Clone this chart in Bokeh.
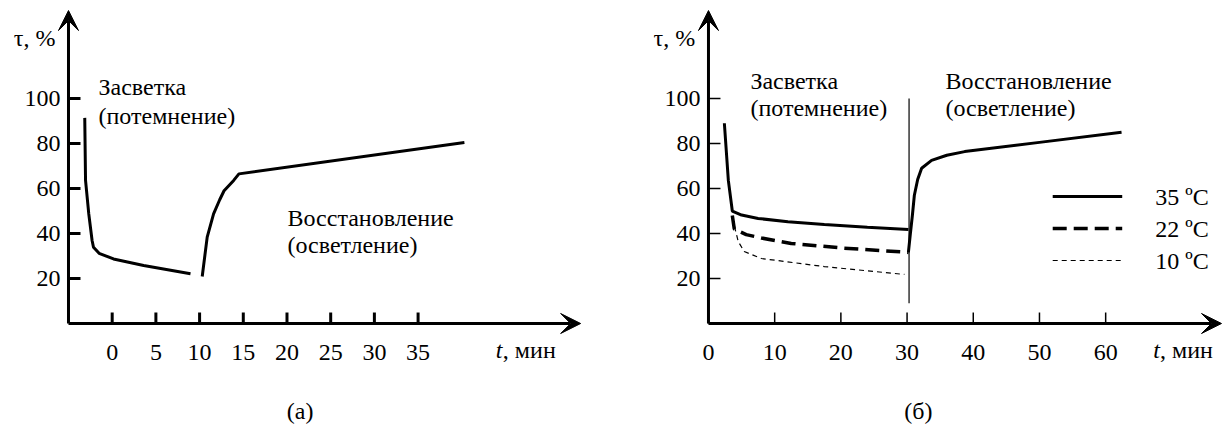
from bokeh.plotting import figure
from bokeh.models import Range1d, FixedTicker, Label, Arrow, VeeHead
from bokeh.layouts import row
from bokeh.embed import file_html
from bokeh.resources import INLINE

FONT = "'Liberation Serif', 'Times New Roman', serif"
FS = "24px"
TICK_COLOR = "black"

# ---------- panel (а) data ----------
a_dark_t = [-3.14, -3.05, -2.68, -2.3, -2.14, -1.5, 0.15, 3.6, 8.96]
a_dark_v = [91.4, 63.6, 48.7, 36.9, 33.9, 31.2, 28.7, 25.8, 22.1]
a_rec_t = [10.3, 10.87, 11.6, 12.3, 12.8, 13.9, 14.5, 40.3]
a_rec_v = [20.9, 38.4, 48.7, 55.0, 59.0, 63.6, 66.5, 80.4]
a_xticks = [0, 5, 10, 15, 20, 25, 30, 35]
a_yticks = [20, 40, 60, 80, 100]

# ---------- panel (б) data ----------
b35_t = [2.4, 3.0, 3.6, 5.0, 7.5, 12.0, 17.5, 24.0, 30.2]
b35_v = [89.0, 63.6, 50.0, 48.2, 46.7, 45.2, 44.0, 42.8, 41.8]
b22_t = [3.6, 3.9, 5.7, 8.0, 12.5, 20.0, 30.2]
b22_v = [48.0, 42.0, 39.5, 38.0, 35.6, 33.6, 31.6]
b10_t = [3.6, 4.5, 5.4, 8.0, 17.5, 29.6]
b10_v = [47.0, 36.4, 32.0, 28.9, 25.3, 21.8]
brec_t = [30.2, 30.5, 30.8, 31.1, 31.6, 32.2, 33.7, 36.0, 38.7, 50.0, 62.4]
brec_v = [31.6, 40.0, 48.0, 57.0, 64.0, 69.0, 72.5, 74.8, 76.4, 80.5, 85.0]
b_switch_t = 30.3
b_switch_v = [9, 100]
b_xticks = [0, 10, 20, 30, 40, 50, 60]
b_yticks = [20, 40, 60, 80, 100]
legend_labels = ["35 ºC", "22 ºC", "10 ºC"]
legend_v = [56.4, 42.2, 28.0]

H = 432
Y_RANGE = (-48.44, 143.56)   # 2.25 px per unit


def make_fig(width, xr, y_axis_at, xticks, yticks, tick_w, px_per_x):
    p = figure(width=width, height=H, x_range=Range1d(*xr), y_range=Range1d(*Y_RANGE),
               output_backend="svg", toolbar_location=None,
               min_border_left=0, min_border_right=0,
               min_border_top=0, min_border_bottom=0)
    p.grid.visible = False
    p.outline_line_color = None
    p.xaxis.fixed_location = 0
    p.yaxis.fixed_location = y_axis_at
    p.xaxis.ticker = FixedTicker(ticks=xticks)
    p.yaxis.ticker = FixedTicker(ticks=yticks)
    for ax in (p.xaxis, p.yaxis):
        ax.axis_line_color = None
        ax.major_tick_in = 0
        ax.major_tick_out = 0
        ax.major_tick_line_color = None
        ax.minor_tick_line_color = None
        ax.major_label_text_font = FONT
        ax.major_label_text_font_size = FS
        ax.major_label_text_color = "black"
    p.xaxis.major_label_standoff = 21
    p.yaxis.major_label_standoff = 8
    # tick marks pointing into the plot
    xlen = 11 / 2.25
    ylen = 12 / px_per_x
    xs = [[t, t] for t in xticks] + [[y_axis_at, y_axis_at + ylen] for _ in yticks]
    ys = [[0, xlen] for _ in xticks] + [[v, v] for v in yticks]
    p.multi_line(xs=xs, ys=ys, line_width=tick_w, line_color=TICK_COLOR)
    return p


def txt(p, x, y, s, align="left", style="normal"):
    p.add_layout(Label(x=x, y=y, text=s, text_font=FONT, text_font_size=FS,
                       text_align=align, text_baseline="middle", text_color="black",
                       text_font_style=style))


def axes_arrows(p, x0, x1, y1):
    p.add_layout(Arrow(x_start=x0, y_start=0, x_end=x1, y_end=0, line_width=3,
                       end=VeeHead(size=20, fill_color="black", line_color="black")))
    p.add_layout(Arrow(x_start=x0, y_start=0, x_end=x0, y_end=y1, line_width=3,
                       end=VeeHead(size=20, fill_color="black", line_color="black")))


# ---------- figure (а) ----------
pa = make_fig(620, (-12.78, 58.16), -5, a_xticks, a_yticks, 3, 8.74)
pa.line(a_dark_t, a_dark_v, line_width=3, color="black")
pa.line(a_rec_t, a_rec_v, line_width=3, color="black")
axes_arrows(pa, -5, 53.6, 139.1)
txt(pa, -1.57, 104.9, "Засветка")
txt(pa, -1.57, 92.4, "(потемнение)")
txt(pa, 20.06, 46.7, "Восстановление")
txt(pa, 20.06, 34.7, "(осветление)")
txt(pa, -6.5, 126.7, "τ, %", align="right")
txt(pa, 43.9, -11.6, "t", style="italic")
txt(pa, 44.7, -11.6, ", мин")
txt(pa, 21.5, -39, "(а)", align="center")

# ---------- figure (б) ----------
pb = make_fig(603, (-13.29, 77.80), 0, b_xticks, b_yticks, 1.5, 6.62)
pb.line(b35_t, b35_v, line_width=3, color="black")
pb.line(b22_t, b22_v, line_width=3.5, color="black", line_dash="14 7")
pb.line(b10_t, b10_v, line_width=1.2, color="black", line_dash="5 4")
pb.line(brec_t, brec_v, line_width=3, color="black")
pb.line([b_switch_t, b_switch_t], b_switch_v, line_width=1.2, color="black")
# legend
pb.line([52.0, 62.5], [legend_v[0]] * 2, line_width=3, color="black")
pb.line([52.0, 62.5], [legend_v[1]] * 2, line_width=3.5, color="black", line_dash="14 7")
pb.line([52.0, 62.5], [legend_v[2]] * 2, line_width=1.2, color="black", line_dash="5 4")
for lab, v in zip(legend_labels, legend_v):
    txt(pb, 67.5, v, lab)
axes_arrows(pb, 0, 77.5, 139.1)
txt(pb, 6.34, 108, "Засветка")
txt(pb, 6.34, 95.6, "(потемнение)")
txt(pb, 35.8, 108, "Восстановление")
txt(pb, 35.8, 96, "(осветление)")
txt(pb, -2.0, 126.7, "τ, %", align="right")
txt(pb, 67.2, -11.6, "t", style="italic")
txt(pb, 68.2, -11.6, ", мин")
txt(pb, 31.7, -39, "(б)", align="center")

layout = row(pa, pb)
open("out.html", "w").write(file_html(layout, INLINE))
